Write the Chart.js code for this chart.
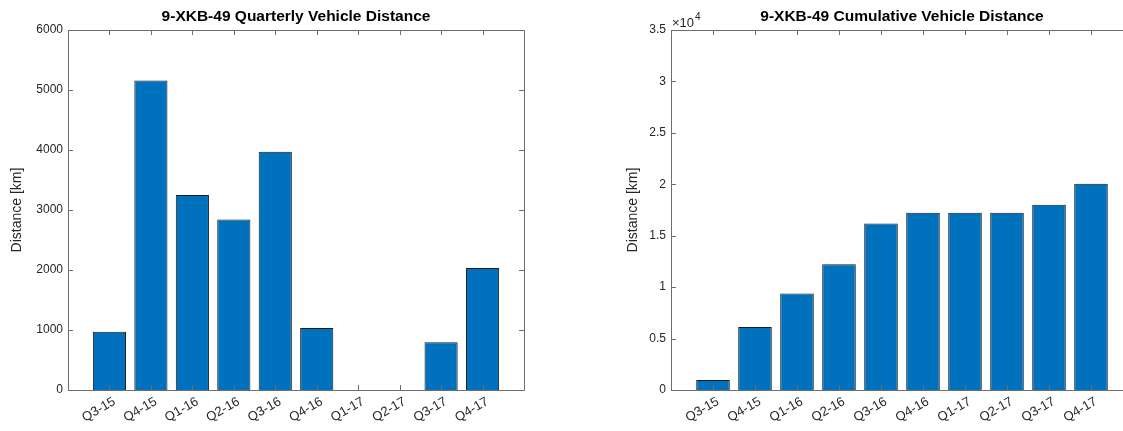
<!DOCTYPE html>
<html>
<head>
<meta charset="utf-8">
<script src="https://cdn.jsdelivr.net/npm/chart.js@4.4.1/dist/chart.umd.min.js"></script>
<style>
  body { margin: 0; background: #fff; width: 1123px; height: 431px; overflow: hidden; position: relative; }
  #quarterly { position: absolute; left: 0; top: 0; }
  #rightBox { position: absolute; left: 580px; top: 0; width: 543px; height: 431px; overflow: hidden; }
</style>
</head>
<body>
<canvas id="quarterly" width="561" height="431"></canvas>
<div id="rightBox"><canvas id="cumulative" width="561" height="431"></canvas></div>
<script>
const vehicle = '9-XKB-49';
const quarters = ['Q3-15', 'Q4-15', 'Q1-16', 'Q2-16', 'Q3-16', 'Q4-16', 'Q1-17', 'Q2-17', 'Q3-17', 'Q4-17'];
const quarterlyKm = [970, 5160, 3250, 2840, 3970, 1035, 0, 0, 795, 2035];
const cumulativeKm = [970, 6130, 9380, 12220, 16190, 17225, 17225, 17225, 18020, 20055];
const quarterlyTicks = [0, 1000, 2000, 3000, 4000, 5000, 6000];
const cumulativeTicks = [0, 5000, 10000, 15000, 20000, 25000, 30000, 35000];

const FONT = 'Liberation Sans, Arial, Helvetica, sans-serif';
const AXIS = '#6e6e6e';
const TEXT = '#262626';

// box around the plot area with inward ticks on all four sides
const boxAxes = {
  id: 'boxAxes',
  afterDatasetsDraw(chart, args, opts) {
    const { ctx, chartArea: a, scales: { x, y } } = chart;
    const len = 5;
    ctx.save();
    ctx.strokeStyle = AXIS;
    ctx.lineWidth = 1;
    ctx.beginPath();
    ctx.rect(Math.round(a.left) + 0.5, Math.round(a.top) + 0.5,
             Math.round(a.right - a.left), Math.round(a.bottom - a.top));
    quarters.forEach((q, i) => {
      const px = Math.round(x.getPixelForValue(i + 1)) + 0.5;
      ctx.moveTo(px, a.bottom); ctx.lineTo(px, a.bottom - len);
      ctx.moveTo(px, a.top); ctx.lineTo(px, a.top + len);
    });
    opts.ticks.forEach(v => {
      const py = Math.round(y.getPixelForValue(v)) + 0.5;
      ctx.moveTo(a.left, py); ctx.lineTo(a.left + len, py);
      ctx.moveTo(a.right, py); ctx.lineTo(a.right - len, py);
    });
    ctx.stroke();
    if (opts.exponent) {
      ctx.fillStyle = TEXT;
      ctx.textBaseline = 'alphabetic';
      ctx.textAlign = 'left';
      ctx.font = '13px ' + FONT;
      const base = a.top - 3;
      ctx.fillText('\u00d710', a.left + 1, base);
      const w = ctx.measureText('\u00d710').width;
      ctx.font = '10px ' + FONT;
      ctx.fillText(String(opts.exponent), a.left + w + 2, base - 7);
    }
    ctx.restore();
  }
};

function barChart(id, title, values, ticks, opts) {
  return new Chart(document.getElementById(id), {
    type: 'bar',
    data: {
      datasets: [{
        data: values.map((v, i) => ({ x: i + 1, y: v })),
        backgroundColor: '#0072BD',
        borderColor: '#1a1a1a',
        borderWidth: 1,
        barPercentage: 0.8,
        categoryPercentage: 1
      }]
    },
    options: {
      responsive: false,
      animation: false,
      devicePixelRatio: 1,
      layout: { padding: { left: 0, right: opts.padRight, top: 0, bottom: 0 } },
      plugins: {
        legend: { display: false },
        tooltip: { enabled: false },
        title: {
          display: true,
          fullSize: false,
          text: title,
          color: '#000',
          font: { family: FONT, size: 15.5, weight: 'bold' },
          padding: { top: 7, bottom: 4.4 }
        },
        boxAxes: { ticks: ticks, exponent: opts.exponent }
      },
      scales: {
        x: {
          type: 'linear',
          offset: false,
          min: 0,
          max: quarters.length + 1,
          afterFit: s => { s.height = 41; },
          afterBuildTicks: s => { s.ticks = quarters.map((q, i) => ({ value: i + 1 })); },
          grid: { display: false, drawTicks: false },
          border: { display: false },
          ticks: {
            autoSkip: false,
            minRotation: 30,
            maxRotation: 30,
            padding: 4,
            labelOffset: 5,
            color: TEXT,
            font: { family: FONT, size: 13 },
            callback: v => quarters[v - 1] || ''
          }
        },
        y: {
          min: 0,
          max: ticks[ticks.length - 1],
          afterFit: s => { s.width = opts.yWidth; },
          afterBuildTicks: s => { s.ticks = ticks.map(v => ({ value: v })); },
          grid: { display: false, drawTicks: false },
          border: { display: false },
          title: {
            display: true,
            text: 'Distance [km]',
            color: TEXT,
            font: { family: FONT, size: 14 },
            padding: { top: opts.labelPad, bottom: 0 }
          },
          ticks: {
            padding: 5,
            color: TEXT,
            font: { family: FONT, size: 12 },
            callback: opts.tickFormat
          }
        }
      }
    },
    plugins: [boxAxes]
  });
}

barChart('quarterly', vehicle + ' Quarterly Vehicle Distance', quarterlyKm, quarterlyTicks, {
  padRight: 37, yWidth: 68, labelPad: 9,
  tickFormat: v => String(v)
});

barChart('cumulative', vehicle + ' Cumulative Vehicle Distance', cumulativeKm, cumulativeTicks, {
  padRight: 8, yWidth: 91, labelPad: 45, exponent: 4,
  tickFormat: v => String(v / 10000)
});
</script>
</body>
</html>
